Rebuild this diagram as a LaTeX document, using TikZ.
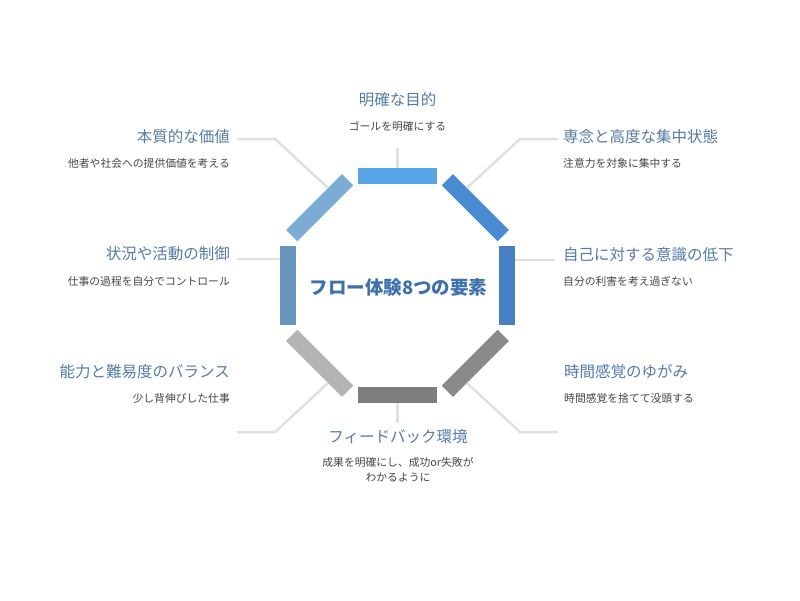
\documentclass[tikz,border=0pt]{standalone}
\usepackage{fontspec}
\setmainfont{Noto Sans CJK JP}
\usetikzlibrary{calc}

\definecolor{goalblue}{RGB}{88,164,232}
\definecolor{focusblue}{RGB}{74,140,212}
\definecolor{selfblue}{RGB}{72,126,194}
\definecolor{controlblue}{RGB}{104,149,190}
\definecolor{valueblue}{RGB}{124,172,214}
\definecolor{timegray}{RGB}{138,138,138}
\definecolor{feedbackgray}{RGB}{126,126,126}
\definecolor{balancegray}{RGB}{180,180,180}
\definecolor{linkgray}{RGB}{224,224,224}
\definecolor{headblue}{RGB}{84,124,166}
\definecolor{notegray}{RGB}{70,70,70}
\definecolor{flowblue}{RGB}{62,112,174}

\tikzset{
    bar/.style={inner sep=0pt, minimum width=79pt, minimum height=16pt},
    vbar/.style={bar, minimum width=16pt, minimum height=79pt},
    link/.style={draw=linkgray, line width=2.5pt},
    head/.style={text=headblue, inner sep=0pt, font=\fontsize{15.5}{18}\selectfont},
    note/.style={text=notegray, inner sep=0pt, font=\fontsize{10.8}{15}\selectfont},
}

\begin{document}
\begin{tikzpicture}[x=1pt, y=-1pt]
    \fill[white] (0,0) rectangle (800,600);

    % octagon of bars
    \node[bar, fill=goalblue] (goal) at (397.5,176) {};
    \node[bar, fill=focusblue, rotate=-45] (focus) at (475.3,207.7) {};
    \node[vbar, fill=selfblue] (self) at (507,285.5) {};
    \node[bar, fill=timegray, rotate=45] (time) at (475.3,363.3) {};
    \node[bar, fill=feedbackgray] (feedback) at (397.5,395) {};
    \node[bar, fill=balancegray, rotate=-45] (balance) at (319.7,363.3) {};
    \node[vbar, fill=controlblue] (control) at (288,285.5) {};
    \node[bar, fill=valueblue, rotate=45] (value) at (319.7,207.7) {};

    % title in the middle
    \node[text=flowblue, font=\fontsize{18.5}{22}\selectfont\bfseries] (flow) at (398.5,288) {フロー体験8つの要素};

    % labels
    \node[head] (goalt) at (397.5,100) {明確な目的};
    \node[note] (goaln) at (397.5,126) {ゴールを明確にする};
    \node[head, anchor=west] (focust) at (563,137) {専念と高度な集中状態};
    \node[note, anchor=west] (focusn) at (563,163) {注意力を対象に集中する};
    \node[head, anchor=west] (selft) at (563,255) {自己に対する意識の低下};
    \node[note, anchor=west] (selfn) at (563,281) {自分の利害を考え過ぎない};
    \node[head, anchor=west] (timet) at (564,372) {時間感覚のゆがみ};
    \node[note, anchor=west] (timen) at (564,398) {時間感覚を捨てて没頭する};
    \node[head] (feedbackt) at (398,437) {フィードバック環境};
    \node[note, align=center] (feedbackn) at (398,469.5) {成果を明確にし、成功or失敗が\\わかるように};
    \node[head, anchor=east] (balancet) at (230,372) {能力と難易度のバランス};
    \node[note, anchor=east] (balancen) at (230,398) {少し背伸びした仕事};
    \node[head, anchor=east] (controlt) at (230,254) {状況や活動の制御};
    \node[note, anchor=east] (controln) at (230,281) {仕事の過程を自分でコントロール};
    \node[head, anchor=east] (valuet) at (230,137) {本質的な価値};
    \node[note, anchor=east] (valuen) at (230,163) {他者や社会への提供価値を考える};

    % connector ends
    \coordinate (goalend) at (397.5,148);
    \coordinate (focusend) at (558,139);
    \coordinate (focusbend) at (520,139);
    \coordinate (selfend) at (555,260);
    \coordinate (timeend) at (558,432);
    \coordinate (timebend) at (520,432);
    \coordinate (feedbackend) at (397.5,423);
    \coordinate (balanceend) at (237,432);
    \coordinate (balancebend) at (275,432);
    \coordinate (controlend) at (237,259);
    \coordinate (valueend) at (237,139);
    \coordinate (valuebend) at (275,139);

    % connectors
    \draw[link] (goalend) -- (goal.north);
    \draw[link] (focusend) -- (focusbend) -- ($(focus.north)!0.5!(focus.north west)$);
    \draw[link] (selfend) -- (selfend -| self.east);
    \draw[link] (timeend) -- (timebend) -- ($(time.south)!0.5!(time.south west)$);
    \draw[link] (feedbackend) -- (feedback.south);
    \draw[link] (balanceend) -- (balancebend) -- ($(balance.south)!0.5!(balance.south east)$);
    \draw[link] (controlend) -- (controlend -| control.west);
    \draw[link] (valueend) -- (valuebend) -- ($(value.north)!0.5!(value.north east)$);
\end{tikzpicture}
\end{document}
